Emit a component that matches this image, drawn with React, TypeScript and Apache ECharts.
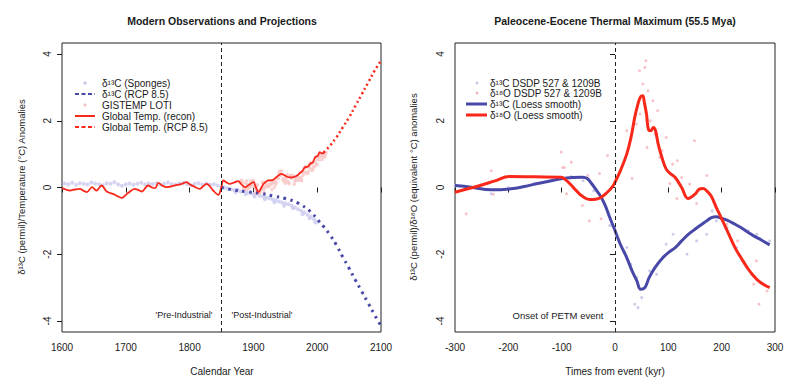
import React, { useEffect, useRef } from "react";
import * as echarts from "echarts";

// ---------- Left panel data ----------
const reconYears = [1600, 1606, 1612, 1620, 1628, 1634, 1639, 1647, 1654, 1662, 1670, 1680, 1687, 1694, 1700, 1704, 1714, 1720, 1725, 1735, 1741, 1746, 1751, 1757, 1764, 1771, 1777, 1788, 1795, 1800, 1806, 1816, 1822, 1827, 1832, 1837, 1845, 1849, 1853, 1858, 1863, 1870, 1876, 1882, 1887, 1893, 1900, 1904, 1908, 1912, 1916, 1923, 1930, 1936, 1944, 1952, 1958, 1963, 1968, 1973, 1977, 1981, 1985, 1989, 1993, 1997, 2001, 2004, 2008, 2012];
const reconValues = [-0.02, -0.06, -0.09, -0.06, -0.04, -0.1, -0.14, 0.01, -0.09, 0.06, -0.12, -0.19, -0.26, -0.31, -0.22, -0.16, -0.04, -0.08, -0.12, 0.06, 0.0, -0.02, 0.14, 0.06, 0.01, 0.03, 0.06, 0.11, 0.16, 0.1, 0.04, -0.04, 0.05, 0.11, 0.03, -0.09, -0.22, -0.05, 0.21, 0.15, 0.11, 0.15, 0.19, 0.08, 0.01, 0.08, 0.16, 0.0, -0.14, -0.02, 0.11, 0.21, 0.22, 0.31, 0.41, 0.33, 0.3, 0.31, 0.35, 0.43, 0.5, 0.61, 0.62, 0.71, 0.75, 0.91, 0.95, 1.06, 1.02, 1.06];

const rcpTempYears = [2010, 2020, 2030, 2040, 2050, 2060, 2070, 2080, 2090, 2100];
const rcpTempValues = [1.05, 1.25, 1.5, 1.8, 2.1, 2.45, 2.8, 3.15, 3.5, 3.8];

const rcpCarbonYears = [1850, 1870, 1890, 1910, 1930, 1950, 1970, 1990, 2000, 2010, 2020, 2030, 2040, 2050, 2060, 2070, 2080, 2090, 2100];
const rcpCarbonValues = [0, -0.08, -0.13, -0.17, -0.25, -0.33, -0.47, -0.73, -0.95, -1.17, -1.42, -1.72, -2.08, -2.42, -2.78, -3.12, -3.47, -3.82, -4.15];

const spongeYears = [1604, 1610, 1616, 1622, 1628, 1634, 1640, 1646, 1652, 1658, 1664, 1670, 1676, 1682, 1688, 1694, 1700, 1706, 1712, 1718, 1724, 1730, 1736, 1742, 1748, 1754, 1760, 1766, 1772, 1778, 1784, 1790, 1796, 1802, 1808, 1814, 1820, 1826, 1832, 1838, 1844, 1850, 1855, 1860, 1865, 1870, 1875, 1880, 1885, 1890, 1895, 1900, 1905, 1910, 1915, 1920, 1925, 1930, 1935, 1940, 1945, 1950, 1955, 1960, 1965, 1970, 1975, 1980, 1985, 1990, 1995, 2000, 1872, 1888, 1902, 1918, 1933, 1948, 1962, 1977, 1988, 1997];
const spongeValues = [0.12, 0.1, 0.14, 0.08, 0.13, 0.11, 0.09, 0.15, 0.12, 0.1, 0.07, 0.13, 0.11, 0.16, 0.09, 0.05, 0.1, 0.12, 0.08, 0.11, 0.14, 0.09, 0.12, 0.1, 0.13, 0.08, 0.11, 0.15, 0.1, 0.09, 0.12, 0.14, 0.1, 0.07, 0.11, 0.13, 0.09, 0.12, 0.08, 0.1, 0.06, 0.02, 0.0, -0.03, -0.05, -0.08, -0.06, -0.12, -0.1, -0.15, -0.17, -0.2, -0.18, -0.25, -0.27, -0.3, -0.32, -0.36, -0.38, -0.42, -0.45, -0.48, -0.5, -0.55, -0.6, -0.65, -0.7, -0.75, -0.82, -0.88, -0.95, -1.02, -0.14, -0.2, -0.27, -0.35, -0.44, -0.55, -0.62, -0.8, -0.92, -1.05];

const gistempYears = [1880, 1881, 1882, 1883, 1884, 1885, 1886, 1887, 1888, 1889, 1890, 1891, 1892, 1893, 1894, 1895, 1896, 1897, 1898, 1899, 1900, 1901, 1902, 1903, 1904, 1905, 1906, 1907, 1908, 1909, 1910, 1911, 1912, 1913, 1914, 1915, 1916, 1917, 1918, 1919, 1920, 1921, 1922, 1923, 1924, 1925, 1926, 1927, 1928, 1929, 1930, 1931, 1932, 1933, 1934, 1935, 1936, 1937, 1938, 1939, 1940, 1941, 1942, 1943, 1944, 1945, 1946, 1947, 1948, 1949, 1950, 1951, 1952, 1953, 1954, 1955, 1956, 1957, 1958, 1959, 1960, 1961, 1962, 1963, 1964, 1965, 1966, 1967, 1968, 1969, 1970, 1971, 1972, 1973, 1974, 1975, 1976, 1977, 1978, 1979, 1980, 1981, 1982, 1983, 1984, 1985, 1986, 1987, 1988, 1989, 1990, 1991, 1992, 1993, 1994, 1995, 1996, 1997, 1998, 1999, 2000, 2001, 2002, 2003, 2004, 2005, 2006, 2007, 2008, 2009, 2010, 2011, 2012, 2013, 2014];
const gistempValues = [0.14, 0.22, 0.2, 0.14, 0.02, -0.03, -0.01, -0.06, 0.13, 0.2, -0.05, 0.08, 0.03, -0.01, 0.0, 0.08, 0.19, 0.19, 0.04, 0.13, 0.22, 0.15, 0.02, -0.07, -0.17, 0.04, 0.08, -0.09, -0.13, -0.18, -0.13, -0.14, -0.06, -0.04, 0.15, 0.16, -0.06, -0.16, 0.01, 0.03, 0.03, 0.11, 0.02, 0.04, 0.03, 0.08, 0.2, 0.08, 0.1, -0.06, 0.14, 0.21, 0.14, 0.01, 0.18, 0.1, 0.15, 0.27, 0.3, 0.28, 0.43, 0.49, 0.37, 0.39, 0.5, 0.39, 0.23, 0.27, 0.19, 0.19, 0.13, 0.23, 0.31, 0.38, 0.17, 0.16, 0.11, 0.35, 0.36, 0.33, 0.27, 0.36, 0.33, 0.35, 0.1, 0.19, 0.24, 0.28, 0.22, 0.35, 0.33, 0.22, 0.31, 0.46, 0.23, 0.29, 0.2, 0.48, 0.37, 0.46, 0.56, 0.62, 0.44, 0.61, 0.46, 0.42, 0.48, 0.62, 0.69, 0.57, 0.75, 0.7, 0.52, 0.53, 0.61, 0.75, 0.63, 0.76, 0.91, 0.68, 0.69, 0.84, 0.93, 0.92, 0.83, 0.98, 0.94, 0.96, 0.84, 0.95, 1.02, 0.91, 0.94, 0.98, 1.05];

// ---------- Right panel data ----------
const carbonLoessKyr = [-300, -270, -232, -195, -170, -145, -120, -101, -80, -61, -52, -44, -35, -26, -18, -10, 0, 10, 22, 32, 41, 48, 56, 64, 75, 90, 100, 113, 125, 138, 150, 163, 172, 181, 190, 199, 210, 225, 236, 250, 260, 275, 290];
const carbonLoessValues = [0.06, 0.01, -0.07, -0.04, 0.03, 0.12, 0.2, 0.26, 0.3, 0.31, 0.27, 0.12, -0.08, -0.29, -0.55, -0.89, -1.29, -1.7, -2.1, -2.5, -2.8, -3.05, -3.0, -2.7, -2.4, -2.1, -1.95, -1.8, -1.6, -1.4, -1.25, -1.1, -1.0, -0.9, -0.88, -0.92, -0.98, -1.1, -1.2, -1.35, -1.45, -1.58, -1.72];

const oxygenLoessKyr = [-300, -253, -225, -198, -150, -101, -92, -85, -72, -63, -48, -36, -26, -15, -5, 0, 10, 22, 30, 37, 43, 48, 52, 55, 59, 63, 67, 72, 76, 81, 88, 96, 105, 113, 125, 137, 150, 158, 165, 172, 180, 190, 199, 212, 225, 238, 250, 260, 269, 280, 290];
const oxygenLoessValues = [-0.14, 0.06, 0.2, 0.33, 0.32, 0.31, 0.22, 0.12, -0.1, -0.24, -0.36, -0.35, -0.29, -0.15, 0.02, 0.16, 0.5, 1.0, 1.5, 2.1, 2.5, 2.72, 2.75, 2.55, 2.2, 1.72, 1.7, 1.8, 1.7, 1.3, 0.9, 0.55, 0.4, 0.3, 0.0, -0.33, -0.2, -0.05, -0.03, -0.1, -0.25, -0.6, -0.9, -1.35, -1.8, -2.15, -2.45, -2.65, -2.8, -2.92, -3.0];

const oxygenPointKyr = [-279, -232, -228, -101, -98, -95, -82, -91, -61, -51, -48, -29, -26, -14, 22, 32, 46, 47, 56, 58, 60, 62, 71, 80, 84, 96, 103, 116, 117, 149, 153, 172, 190, 240, 255, 265, 270, 280, 285, 40, 66, 88, 125, 210, 52, 75, 108, 140, 230, 260];
const oxygenPointValues = [-0.79, 0.5, -0.2, 1.06, 0.6, 0.6, 0.76, -0.19, -0.54, 0.36, -1.0, 0.42, -0.94, 0.96, 1.7, 0.27, 3.5, 2.2, 3.6, 3.8, 1.2, 2.9, 2.6, 2.3, 0.9, 1.5, 0.12, -0.33, 0.8, 1.4, -0.48, 0.36, -0.6, -2.2, -2.6, -2.2, -3.5, -2.9, -3.1, 1.9, 2.0, 1.1, 0.3, -1.1, 3.1, 1.6, 0.7, 0.1, -1.6, -2.9];

const carbonPointKyr = [-300, -232, -200, -150, -82, -60, -40, -10, -6, 22, 37, 41, 43, 50, 59, 78, 96, 109, 135, 153, 172, 182, 190, 210, 228, 250, 266, 290, 30, 65, 120];
const carbonPointValues = [0.05, -0.19, 0.0, 0.1, 0.33, 0.2, -0.1, -1.14, -1.14, -1.8, -3.5, -2.7, -3.6, -3.3, -2.9, -2.6, -1.7, -1.4, -2.0, -1.6, -1.4, -0.7, -1.0, -1.2, -1.8, -1.3, -1.4, -1.6, -2.3, -2.5, -1.7];

const yTicks = [-4, -2, 0, 2, 4];

const zip = (xs: number[], ys: number[]) => xs.map((x, i) => [x, ys[i]]);

const FONT = "Liberation Sans, Arial, sans-serif";
const RED = "#f8281a";
const BLUE = "#4848a8";
const TXT = "#1a1a1a";

function buildOption() {
  const yAxisBase = (gridIndex: number) => ({
    type: "value",
    gridIndex,
    min: -4.33,
    max: 4.33,
    splitLine: { show: false },
    axisLine: { show: false },
    axisTick: { show: true, length: 5, customValues: yTicks, lineStyle: { color: TXT } },
    axisLabel: {
      show: true,
      customValues: yTicks,
      rotate: 90,
      margin: 10,
      fontSize: 10,
      fontFamily: FONT,
      color: TXT,
    },
  });
  const xAxisBase = (gridIndex: number, min: number, max: number) => ({
    type: "value",
    gridIndex,
    min,
    max,
    interval: 100,
    splitLine: { show: false },
    axisLine: { show: false },
    axisTick: { show: true, length: 5, lineStyle: { color: TXT } },
    axisLabel: {
      show: true,
      margin: 10,
      fontSize: 10,
      fontFamily: FONT,
      color: TXT,
      showMinLabel: true,
      showMaxLabel: true,
      formatter: (v: number) => String(v),
    },
  });

  const txt = (x: number, y: number, text: string, extra: any = {}) => ({
    type: "text",
    x,
    y,
    style: {
      text,
      fontSize: 10,
      fontFamily: FONT,
      fill: TXT,
      align: "left",
      verticalAlign: "middle",
      ...extra,
    },
  });

  const graphic: any[] = [
    txt(222, 21, "Modern Observations and Projections", { fontWeight: "bold", fontSize: 10.5, align: "center" }),
    txt(615, 21, "Paleocene-Eocene Thermal Maximum (55.5 Mya)", { fontWeight: "bold", fontSize: 10.5, align: "center" }),
    txt(222, 371, "Calendar Year", { align: "center" }),
    txt(615, 371, "Times from event (kyr)", { align: "center" }),
    { ...txt(21, 187, "δ¹³C (permil)/Temperature (°C) Anomalies", { align: "center", fontSize: 9.5 }), rotation: Math.PI / 2 },
    { ...txt(413, 187, "δ¹³C (permil)/δ¹⁸O (equivalent °C) anomalies", { align: "center", fontSize: 9.5 }), rotation: Math.PI / 2 },
    txt(184, 315, "'Pre-Industrial'", { align: "center", fontSize: 9 }),
    txt(262, 315, "'Post-Industrial'", { align: "center", fontSize: 9 }),
    txt(558, 315, "Onset of PETM event", { align: "center", fontSize: 9.5 }),
    // left legend
    { type: "circle", shape: { cx: 85, cy: 83, r: 1.6 }, style: { fill: "#c6c6ec" } },
    txt(102, 83, "δ¹³C (Sponges)"),
    { type: "line", shape: { x1: 75, y1: 94, x2: 95, y2: 94 }, style: { stroke: BLUE, lineWidth: 2, lineDash: [4, 2.5] } },
    txt(102, 94, "δ¹³C (RCP 8.5)"),
    { type: "circle", shape: { cx: 85, cy: 105, r: 1.6 }, style: { fill: "#f7c4c6" } },
    txt(102, 105, "GISTEMP LOTI"),
    { type: "line", shape: { x1: 75, y1: 116, x2: 95, y2: 116 }, style: { stroke: RED, lineWidth: 2 } },
    txt(102, 116, "Global Temp. (recon)"),
    { type: "line", shape: { x1: 75, y1: 127, x2: 95, y2: 127 }, style: { stroke: RED, lineWidth: 2, lineDash: [4, 2.5] } },
    txt(102, 127, "Global Temp. (RCP 8.5)"),
    // right legend
    { type: "circle", shape: { cx: 477, cy: 83, r: 1.4 }, style: { fill: "#c6c6ec" } },
    txt(490, 83, "δ¹³C DSDP 527 & 1209B"),
    { type: "circle", shape: { cx: 477, cy: 93, r: 1.4 }, style: { fill: "#f4b4b8" } },
    txt(490, 93, "δ¹⁸O DSDP 527 & 1209B"),
    { type: "line", shape: { x1: 466, y1: 104, x2: 487, y2: 104 }, style: { stroke: BLUE, lineWidth: 3 } },
    txt(490, 104, "δ¹³C (Loess smooth)"),
    { type: "line", shape: { x1: 466, y1: 115, x2: 487, y2: 115 }, style: { stroke: RED, lineWidth: 3 } },
    txt(490, 115, "δ¹⁸O (Loess smooth)"),
  ];

  const vline = (x: number) => ({
    silent: true,
    symbol: "none",
    label: { show: false },
    lineStyle: { color: "#222", type: [4, 3], width: 1 },
    data: [{ xAxis: x }],
  });

  return {
    animation: false,
    backgroundColor: "#fff",
    textStyle: { fontFamily: FONT },
    grid: [
      { left: 62, right: 419, top: 43, bottom: 56, show: true, borderColor: "#222", borderWidth: 1, backgroundColor: "transparent" },
      { left: 455, right: 25, top: 43, bottom: 56, show: true, borderColor: "#222", borderWidth: 1, backgroundColor: "transparent" },
    ],
    xAxis: [xAxisBase(0, 1600, 2100), xAxisBase(1, -300, 300)],
    yAxis: [yAxisBase(0), yAxisBase(1)],
    graphic,
    series: [
      {
        type: "scatter",
        xAxisIndex: 0,
        yAxisIndex: 0,
        data: zip(spongeYears, spongeValues),
        symbol: "circle",
        symbolSize: 4,
        itemStyle: { color: "#cdcdf0", opacity: 0.85 },
        markLine: vline(1850),
      },
      {
        type: "scatter",
        xAxisIndex: 0,
        yAxisIndex: 0,
        data: zip(gistempYears, gistempValues),
        symbol: "circle",
        symbolSize: 3.5,
        itemStyle: { color: "#f9caca", opacity: 0.85 },
      },
      {
        type: "line",
        xAxisIndex: 0,
        yAxisIndex: 0,
        data: zip(rcpCarbonYears, rcpCarbonValues),
        showSymbol: false,
        smooth: 0.4,
        lineStyle: { color: BLUE, width: 3, type: [2.5, 4.5] },
      },
      {
        type: "line",
        xAxisIndex: 0,
        yAxisIndex: 0,
        data: zip(reconYears, reconValues),
        showSymbol: false,
        smooth: 0.35,
        lineStyle: { color: RED, width: 1.8 },
      },
      {
        type: "line",
        xAxisIndex: 0,
        yAxisIndex: 0,
        data: zip(rcpTempYears, rcpTempValues),
        showSymbol: false,
        smooth: 0.4,
        lineStyle: { color: RED, width: 2.5, type: [2, 3] },
      },
      // right
      {
        type: "scatter",
        xAxisIndex: 1,
        yAxisIndex: 1,
        data: zip(carbonPointKyr, carbonPointValues),
        symbol: "circle",
        symbolSize: 3,
        itemStyle: { color: "#c6c6ec", opacity: 0.9 },
        markLine: vline(0),
      },
      {
        type: "scatter",
        xAxisIndex: 1,
        yAxisIndex: 1,
        data: zip(oxygenPointKyr, oxygenPointValues),
        symbol: "circle",
        symbolSize: 3,
        itemStyle: { color: "#f6bcc2", opacity: 0.9 },
      },
      {
        type: "line",
        xAxisIndex: 1,
        yAxisIndex: 1,
        data: zip(carbonLoessKyr, carbonLoessValues),
        showSymbol: false,
        smooth: 0.4,
        lineStyle: { color: BLUE, width: 3 },
      },
      {
        type: "line",
        xAxisIndex: 1,
        yAxisIndex: 1,
        data: zip(oxygenLoessKyr, oxygenLoessValues),
        showSymbol: false,
        smooth: 0.4,
        lineStyle: { color: RED, width: 3 },
      },
    ],
  };
}

export default function App() {
  const ref = useRef<HTMLDivElement>(null);
  useEffect(() => {
    if (!ref.current) return;
    const chart = echarts.init(ref.current, null, { renderer: "svg" });
    chart.setOption(buildOption() as any);
    return () => chart.dispose();
  }, []);
  return (
    <div
      ref={ref}
      style={{ position: "absolute", left: 0, top: 0, width: 800, height: 388, background: "#fff" }}
    />
  );
}
